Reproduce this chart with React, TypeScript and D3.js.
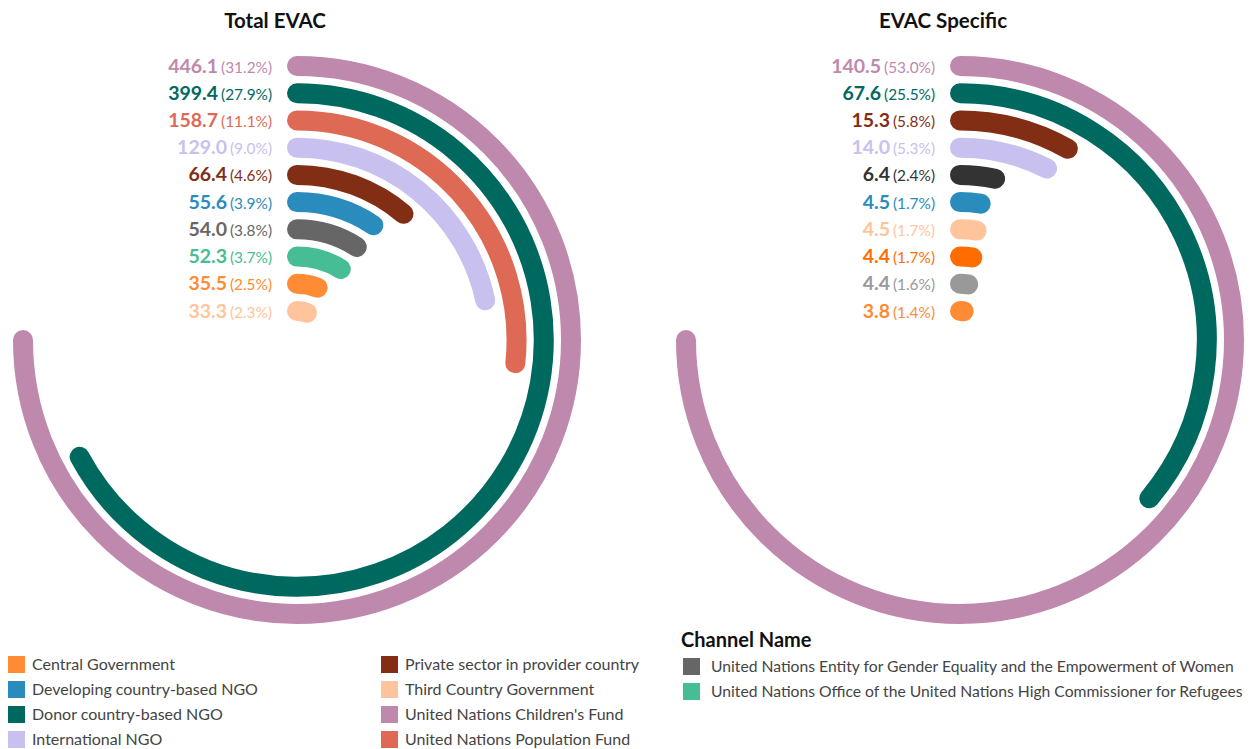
import React from "react";
import * as d3 from "d3";

// ---- Data ----
const leftTitle = "Total EVAC";
const rightTitle = "EVAC Specific";

const leftValues = [446.1, 399.4, 158.7, 129.0, 66.4, 55.6, 54.0, 52.3, 35.5, 33.3];
const leftPcts = ["31.2%", "27.9%", "11.1%", "9.0%", "4.6%", "3.9%", "3.8%", "3.7%", "2.5%", "2.3%"];
const leftColors = ["#bf88ad", "#00695f", "#de6a56", "#c8c0ee", "#822e15", "#2a8cbc", "#666666", "#47bd96", "#ff8b34", "#ffc49c"];

const rightValues = [140.5, 67.6, 15.3, 14.0, 6.4, 4.5, 4.5, 4.4, 4.4, 3.8];
const rightPcts = ["53.0%", "25.5%", "5.8%", "5.3%", "2.4%", "1.7%", "1.7%", "1.7%", "1.6%", "1.4%"];
const rightColors = ["#bf88ad", "#00695f", "#822e15", "#c8c0ee", "#333333", "#2a8cbc", "#ffc49c", "#ff6d00", "#999999", "#ff8b34"];

const legendLeftCol = ["Central Government", "Developing country-based NGO", "Donor country-based NGO", "International NGO"];
const legendLeftColColors = ["#ff8b34", "#2a8cbc", "#00695f", "#c8c0ee"];
const legendRightCol = ["Private sector in provider country", "Third Country Government", "United Nations Children's Fund", "United Nations Population Fund"];
const legendRightColColors = ["#822e15", "#ffc49c", "#bf88ad", "#de6a56"];

const channelTitle = "Channel Name";
const channelNames = [
  "United Nations Entity for Gender Equality and the Empowerment of Women",
  "United Nations Office of the United Nations High Commissioner for Refugees",
];
const channelColors = ["#666666", "#47bd96"];

const W = 1257;
const H = 749;
const FONT = "Lato, 'Open Sans', sans-serif";

function Radial({ cx, cy, title, titleX, values, pcts, colors }: any) {
  const maxV = d3.max(values as number[]) as number;
  const angle = d3.scaleLinear().domain([0, maxV]).range([0, Math.PI * 1.5]);
  const radius = d3.scaleLinear().domain([0, values.length - 1]).range([274, 29]);
  return (
    <g>
      <text x={titleX} y={28} textAnchor="middle" fontFamily={FONT} fontWeight={700} fontSize={20.5} fill="#111">
        {title}
      </text>
      {values.map((v: number, i: number) => {
        const r = radius(i);
        const p = d3.path();
        const a0 = -Math.PI / 2;
        const a1 = a0 + Math.max(angle(v), 0.0001);
        p.arc(cx, cy, r, a0, a1, false);
        return (
          <path key={"a" + i} d={p.toString()} fill="none" stroke={colors[i]} strokeWidth={20} strokeLinecap="round" />
        );
      })}
      {values.map((v: number, i: number) => {
        const y = cy - radius(i);
        return (
          <text key={"t" + i} x={cx - 25} y={y + 6.5} textAnchor="end" fontFamily={FONT} fill={colors[i]}>
            <tspan fontWeight={700} fontSize={19.5}>{v.toFixed(1)}</tspan>
            <tspan fontSize={15.4} dx={3}>({pcts[i]})</tspan>
          </text>
        );
      })}
    </g>
  );
}

export default function App() {
  return (
    <svg width={W} height={H} style={{ display: "block", marginTop: -8, marginLeft: -8 }}>
      <rect x={0} y={0} width={W} height={H} fill="#fff" />
      <Radial cx={297} cy={340} title={leftTitle} titleX={275} values={leftValues} pcts={leftPcts} colors={leftColors} />
      <Radial cx={960} cy={340} title={rightTitle} titleX={943} values={rightValues} pcts={rightPcts} colors={rightColors} />
      {legendLeftCol.map((t, i) => (
        <g key={"l" + i}>
          <rect x={8} y={656 + i * 25} width={17} height={17} fill={legendLeftColColors[i]} />
          <text x={32} y={670 + i * 25} fontFamily={FONT} fontSize={16} fill="#444">{t}</text>
        </g>
      ))}
      {legendRightCol.map((t, i) => (
        <g key={"r" + i}>
          <rect x={381} y={656 + i * 25} width={17} height={17} fill={legendRightColColors[i]} />
          <text x={405} y={670 + i * 25} fontFamily={FONT} fontSize={16} fill="#444">{t}</text>
        </g>
      ))}
      <text x={681} y={647} fontFamily={FONT} fontWeight={700} fontSize={20} fill="#111">{channelTitle}</text>
      {channelNames.map((t, i) => (
        <g key={"c" + i}>
          <rect x={683} y={658 + i * 25} width={17} height={17} fill={channelColors[i]} />
          <text x={711} y={672 + i * 25} fontFamily={FONT} fontSize={15.7} fill="#444">{t}</text>
        </g>
      ))}
    </svg>
  );
}
